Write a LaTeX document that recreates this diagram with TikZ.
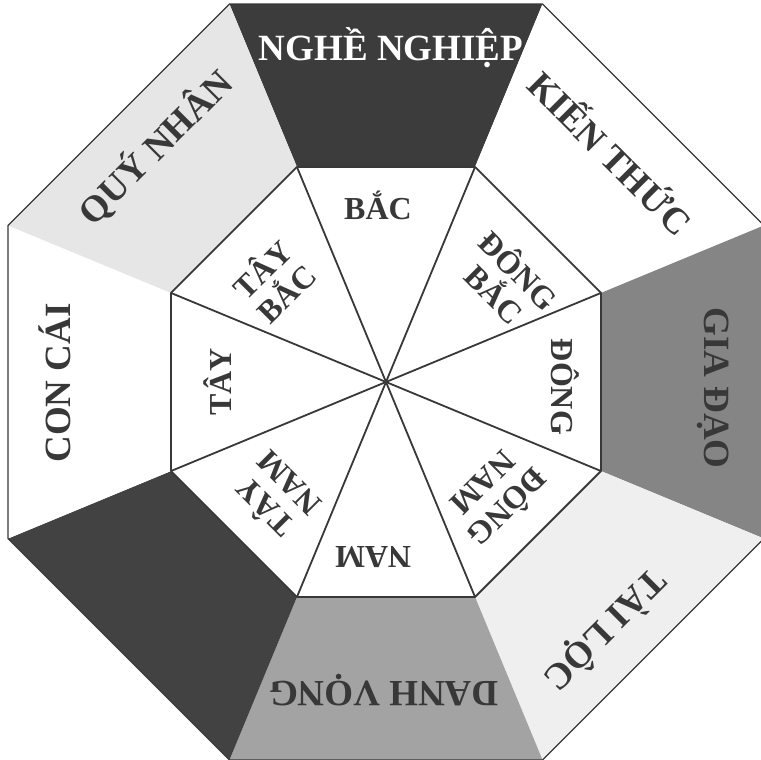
\documentclass[tikz,border=0pt]{standalone}
\usepackage{fontspec}
\setmainfont{Liberation Serif}
\definecolor{ink}{HTML}{383838}
\definecolor{darkfill}{HTML}{3C3C3C}
\definecolor{darkfillb}{HTML}{424242}
\definecolor{giafill}{HTML}{858585}
\definecolor{taifill}{HTML}{EFEFEF}
\definecolor{danhfill}{HTML}{A3A3A3}
\definecolor{quyfill}{HTML}{E6E6E6}
\begin{document}
\begin{tikzpicture}[x=1pt,y=1pt,
  outerlab/.style={font=\fontsize{37}{37}\selectfont\bfseries, text=ink, inner sep=0pt},
  innerlab/.style={font=\fontsize{32}{34}\selectfont\bfseries, text=ink, align=center, inner sep=0pt},
  octedge/.style={draw=ink, line width=1.8pt, line join=round},
  rimedge/.style={draw=ink, line width=1.3pt, line join=miter}]
\useasboundingbox (-386,-378) rectangle (375,382);
\fill[white] (-386,-378) rectangle (375,382);
\coordinate (O) at (0,0);
\foreach \k in {1,...,8} {
  \coordinate (o\k) at ({22.5+45*(\k-1)}:409.1);
  \coordinate (i\k) at ({22.5+45*(\k-1)}:232.7);
}
% outer ring sectors
\fill[darkfill]  (o2) -- (o3) -- (i3) -- (i2) -- cycle;
\fill[white]     (o1) -- (o2) -- (i2) -- (i1) -- cycle;
\fill[giafill]   (o8) -- (o1) -- (i1) -- (i8) -- cycle;
\fill[taifill]   (o7) -- (o8) -- (i8) -- (i7) -- cycle;
\fill[danhfill]  (o6) -- (o7) -- (i7) -- (i6) -- cycle;
\fill[darkfillb] (o5) -- (o6) -- (i6) -- (i5) -- cycle;
\fill[white]     (o4) -- (o5) -- (i5) -- (i4) -- cycle;
\fill[quyfill]   (o3) -- (o4) -- (i4) -- (i3) -- cycle;
% outline
\draw[rimedge] (o1) -- (o2) -- (o3) -- (o4) -- (o5) -- (o6) -- (o7) -- (o8) -- cycle;
\fill[white] (i1) -- (i2) -- (i3) -- (i4) -- (i5) -- (i6) -- (i7) -- (i8) -- cycle;
\foreach \k in {1,...,8} { \draw[octedge] (O) -- (i\k); }
\draw[octedge] (i1) -- (i2) -- (i3) -- (i4) -- (i5) -- (i6) -- (i7) -- (i8) -- cycle;
% outer labels
\node[outerlab, text=white] (nghe) at (5,334) {NGHỀ NGHIỆP};
\node[outerlab, rotate=-45] (kien) at (226,231) {KIẾN THỨC};
\node[outerlab, rotate=-90] (gia) at (327,-6) {GIA ĐẠO};
\node[outerlab, rotate=-135] (tai) at (219,-248) {TÀI LỘC};
\node[outerlab, rotate=180] (danh) at (-2,-308) {DANH VỌNG};
\node[outerlab, rotate=90] (con) at (-331,-1) {CON CÁI};
\node[outerlab, rotate=45] (quy) at (-231,235) {QUÝ NHÂN};
% inner labels
\node[innerlab] (bac) at (-8,177) {BẮC};
\node[innerlab, rotate=-45] (dongbac) at (122,101) {ĐÔNG\\BẮC};
\node[innerlab, rotate=-90] (dong) at (179,-5) {ĐÔNG};
\node[innerlab, rotate=-135] (dongnam) at (111,-115) {ĐÔNG\\NAM};
\node[innerlab, rotate=180] (nam) at (-13,-175) {NAM};
\node[innerlab, rotate=135] (taynam) at (-111,-115) {TÂY\\NAM};
\node[innerlab, rotate=90] (tay) at (-168,0) {TÂY};
\node[innerlab, rotate=45] (taybac) at (-113,102) {TÂY\\BẮC};
\end{tikzpicture}
\end{document}
